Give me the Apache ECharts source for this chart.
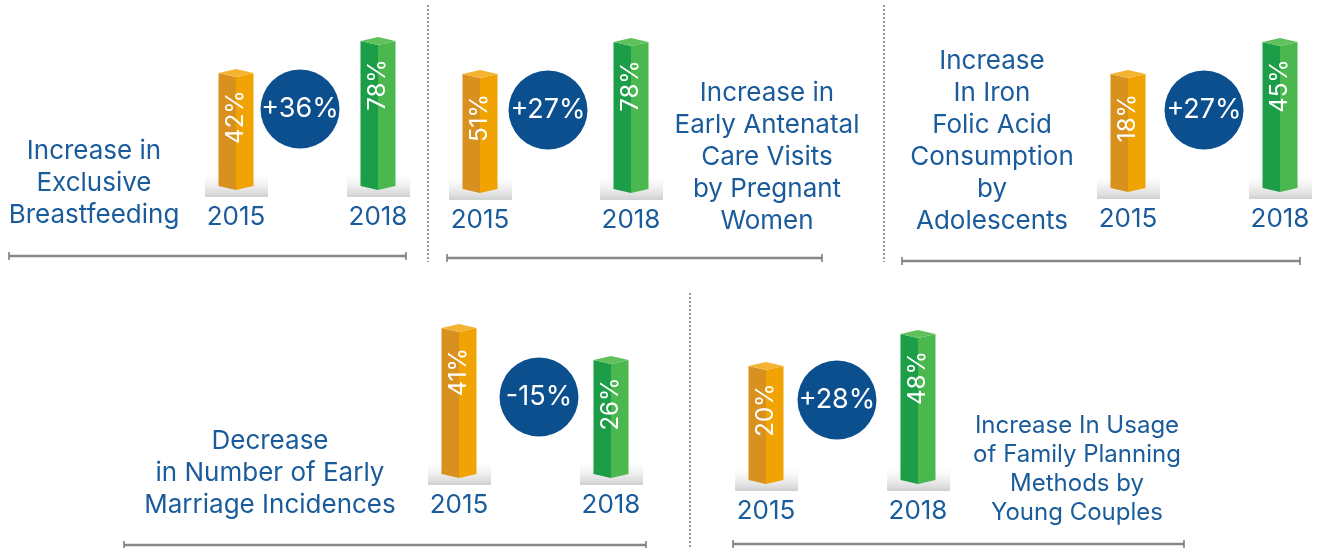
<!DOCTYPE html>
<html>
<head>
<meta charset="utf-8">
<script src="https://cdn.jsdelivr.net/npm/echarts@6/dist/echarts.min.js"></script>
<style>html,body{margin:0;padding:0;background:#fff}#chart{width:1325px;height:548px}</style>
</head>
<body>
<div id="chart"></div>
<script>
// ---- data ----
const years = ['2015', '2018'];
const titles = [
  'Increase in\nExclusive\nBreastfeeding',
  'Increase in\nEarly Antenatal\nCare Visits\nby Pregnant\nWomen',
  'Increase\nIn Iron\nFolic Acid\nConsumption\nby\nAdolescents',
  'Decrease\nin Number of Early\nMarriage Incidences',
  'Increase In Usage\nof Family Planning\nMethods by\nYoung Couples'
];
const values2015 = [42, 51, 18, 41, 20];
const values2018 = [78, 78, 45, 26, 48];
const changes = ['+36%', '+27%', '+27%', '-15%', '+28%'];

// ---- layout (pixels / axis ranges) ----
const layout = [
  {left: 236, width: 142, top: 41, base: 186, yMin: -85, yMax: 78, circle: [300, 109], title: [94, 135], lh: 32, fs: 26, line: [9, 406, 256]},
  {left: 480, width: 151, top: 42, base: 189, yMin: -46, yMax: 78, circle: [548, 110], title: [767, 77], lh: 32, fs: 26, line: [447, 822, 258]},
  {left: 1128, width: 152, top: 42, base: 188, yMin: -78, yMax: 45, circle: [1204, 110], title: [992, 45], lh: 32, fs: 26, line: [902, 1300, 261]},
  {left: 459, width: 152, top: 328, base: 474, yMin: -27.4, yMax: 41, circle: [539, 397], title: [270, 425], lh: 32, fs: 26, line: [124, 646, 545]},
  {left: 766, width: 152, top: 334, base: 480, yMin: -79.7, yMax: 48, circle: [837, 400], title: [1077, 411], lh: 29, fs: 24, line: [733, 1184, 544]}
];

const BLUE_TEXT = '#1a5b9b';
const CIRCLE = '#0c4f8f';
const FONT = 'Inter, "Liberation Sans", Arial, sans-serif';
const colors = [
  {left: '#d8901e', right: '#f0a303', top: '#f4b331'},
  {left: '#1b9e47', right: '#4bb74f', top: '#5fc05c'}
];

function renderBar(params, api) {
  const idx = api.value(0);
  const val = api.value(1);
  const cs = params.coordSys;
  const topPt = api.coord([idx, val]);
  const cx = topPt[0];
  const c = topPt[1];
  const b = cs.y + cs.height;
  const h = 17.5, d = 4;
  const x0 = cx - h, x1 = cx + h;
  const col = colors[idx];
  return {
    type: 'group',
    children: [
      {type: 'rect', shape: {x: cx - 31, y: b - 12, width: 63, height: 23},
        style: {fill: new echarts.graphic.LinearGradient(0, 0, 0, 1, [
          {offset: 0, color: 'rgba(235,235,235,0)'},
          {offset: 1, color: '#d0d0d0'}])}},
      {type: 'polygon', shape: {points: [[x0, c], [cx, c + d], [cx, b + d], [x0, b]]}, style: {fill: col.left}},
      {type: 'polygon', shape: {points: [[cx, c + d], [x1, c], [x1, b], [cx, b + d]]}, style: {fill: col.right}},
      {type: 'polygon', shape: {points: [[x0, c], [cx, c - d], [x1, c], [cx, c + d]]}, style: {fill: col.top}},
      {type: 'text', x: cx, y: c + 44, rotation: Math.PI / 2,
        style: {text: val + '%', fill: '#fff', font: '24px ' + FONT, align: 'center', verticalAlign: 'middle'}}
    ]
  };
}

const grids = [], xAxes = [], yAxes = [], series = [], graphics = [];
layout.forEach((L, i) => {
  grids.push({left: L.left, width: L.width, top: L.top, bottom: 548 - L.base, outerBoundsMode: 'none', containLabel: false});
  xAxes.push({type: 'category', gridIndex: i, data: years, boundaryGap: false,
    axisLine: {show: false}, axisTick: {show: false}, splitLine: {show: false},
    axisLabel: {margin: 18, color: BLUE_TEXT, fontSize: 26, fontFamily: FONT, showMinLabel: true, showMaxLabel: true, interval: 0}});
  yAxes.push({type: 'value', gridIndex: i, min: L.yMin, max: L.yMax, show: false});
  series.push({type: 'custom', xAxisIndex: i, yAxisIndex: i, renderItem: renderBar, clip: false,
    data: [[0, values2015[i]], [1, values2018[i]]], silent: true});
  // circle with change
  graphics.push({type: 'circle', shape: {cx: L.circle[0], cy: L.circle[1], r: 39.5}, style: {fill: CIRCLE}});
  graphics.push({type: 'text', x: L.circle[0], y: L.circle[1],
    style: {text: changes[i], fill: '#fff', font: '27px ' + FONT, align: 'center', verticalAlign: 'middle'}});
  // title
  graphics.push({type: 'text', x: L.title[0], y: L.title[1],
    style: {text: titles[i], fill: BLUE_TEXT, font: L.fs + 'px ' + FONT, align: 'center', verticalAlign: 'top', lineHeight: L.lh}});
  // underline
  const [lx0, lx1, ly] = L.line;
  graphics.push({type: 'line', shape: {x1: lx0, y1: ly, x2: lx1, y2: ly}, style: {stroke: '#888', lineWidth: 2.5}});
  graphics.push({type: 'line', shape: {x1: lx0, y1: ly - 4, x2: lx0, y2: ly + 4}, style: {stroke: '#777', lineWidth: 1.5}});
  graphics.push({type: 'line', shape: {x1: lx1, y1: ly - 4, x2: lx1, y2: ly + 4}, style: {stroke: '#777', lineWidth: 1.5}});
});
// dotted separators
[[428, 5, 262], [884, 5, 262], [690, 293, 548]].forEach(s => {
  graphics.push({type: 'line', shape: {x1: s[0], y1: s[1], x2: s[0], y2: s[2]},
    style: {stroke: '#9a9a9a', lineWidth: 2, lineDash: [2, 2]}});
});

const chart = echarts.init(document.getElementById('chart'), null, {renderer: 'canvas'});
chart.setOption({
  animation: false,
  backgroundColor: '#fff',
  grid: grids, xAxis: xAxes, yAxis: yAxes, series: series,
  graphic: {elements: graphics}
});
</script>
</body>
</html>
